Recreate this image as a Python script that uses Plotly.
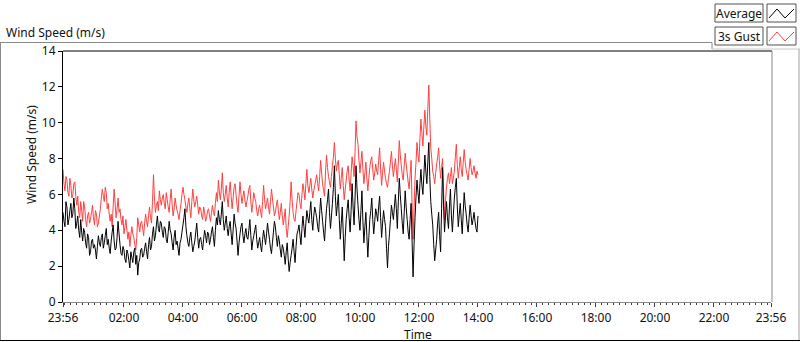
import pandas as pd
import plotly.graph_objects as go

# ---------------- data (2-minute samples, 23:56 -> 14:00) ----------------
start_time = "2024-01-01 23:56"
end_time = "2024-01-02 23:56"
sample_minutes = 2

average = [
    5.0, 4.5, 4.2, 5.6, 5.3, 4.3, 4.6, 5.1, 5.5, 4.7, 4.9, 5.8, 5.2, 4.1, 4.4, 4.8, 4.0, 3.6, 4.6, 3.9,
    3.4, 4.1, 3.9, 3.3, 3.0, 3.8, 3.6, 2.6, 2.8, 3.4, 3.5, 3.0, 3.2, 2.9, 2.4, 3.1, 3.7, 3.3, 3.1, 3.6,
    3.8, 3.0, 3.3, 3.7, 4.1, 3.2, 3.5, 3.0, 2.7, 3.4, 3.9, 4.3, 3.4, 2.9, 3.0, 3.6, 4.5, 3.8, 3.2, 2.7,
    2.6, 3.1, 2.9, 2.4, 2.2, 2.9, 2.7, 2.3, 1.9, 2.8, 2.5, 2.2, 2.8, 3.0, 2.1, 2.6, 1.5, 2.2, 2.4, 2.9,
    3.0, 2.5, 2.6, 3.0, 3.3, 2.8, 2.4, 3.2, 3.6, 2.9, 3.1, 3.8, 4.2, 3.4, 3.7, 4.3, 4.8, 4.1, 3.9, 4.5,
    4.4, 3.9, 3.6, 4.2, 4.1, 3.5, 3.3, 3.9, 4.5, 4.0, 3.8, 3.3, 2.9, 3.6, 4.0, 3.2, 3.4, 3.0, 2.6, 3.3,
    3.5, 3.9, 4.3, 4.7, 5.2, 4.2, 3.7, 3.3, 3.1, 3.6, 3.9, 3.3, 2.8, 3.1, 3.4, 3.9, 4.4, 3.6, 3.0, 3.5,
    3.6, 3.2, 2.9, 3.5, 4.0, 3.7, 3.3, 3.9, 3.8, 3.2, 3.5, 3.9, 4.2, 3.6, 3.1, 4.0, 4.7, 4.3, 5.1, 4.6,
    4.3, 4.9, 5.6, 4.6, 4.0, 4.4, 4.8, 4.1, 3.7, 4.2, 4.5, 3.8, 3.2, 4.0, 4.9, 4.4, 4.1, 3.4, 2.6, 3.3,
    3.8, 4.2, 4.4, 3.7, 3.3, 3.8, 4.1, 3.6, 3.5, 4.0, 4.6, 3.7, 2.9, 3.4, 3.7, 4.0, 4.3, 3.5, 3.0, 3.3,
    3.6, 3.1, 2.8, 3.5, 4.0, 3.6, 3.2, 3.8, 4.4, 3.9, 3.5, 3.0, 2.7, 3.3, 3.9, 4.5, 4.2, 3.6, 3.1, 3.7,
    3.4, 2.9, 2.5, 3.2, 3.0, 2.6, 2.1, 2.8, 3.3, 2.4, 1.7, 2.2, 2.6, 3.0, 3.5, 2.8, 2.2, 3.1, 3.8, 4.0,
    4.3, 3.7, 3.2, 4.1, 4.8, 4.2, 3.6, 4.4, 5.1, 4.7, 4.4, 5.0, 5.6, 4.6, 4.0, 4.8, 5.3, 5.0, 4.7, 4.2,
    3.9, 4.9, 5.8, 5.1, 4.5, 3.9, 3.4, 4.4, 5.2, 5.7, 6.3, 5.0, 4.1, 4.8, 5.5, 6.4, 7.6, 5.9, 4.8, 5.4,
    6.0, 4.6, 3.5, 4.4, 5.3, 3.8, 2.3, 3.6, 4.6, 5.2, 5.7, 4.7, 3.9, 5.1, 6.6, 5.3, 4.3, 5.8, 7.6, 6.3,
    5.4, 4.6, 4.0, 5.1, 6.2, 4.5, 3.3, 4.2, 5.0, 3.7, 2.5, 3.6, 4.6, 5.1, 5.8, 4.6, 3.8, 4.5, 5.2, 4.9,
    4.5, 5.3, 5.9, 4.7, 3.6, 4.4, 5.1, 4.6, 4.2, 3.0, 1.9, 3.1, 3.8, 4.6, 5.4, 5.0, 4.6, 5.3, 6.0, 5.2,
    4.1, 5.6, 6.9, 6.0, 5.2, 4.4, 3.8, 5.0, 6.2, 5.3, 4.6, 3.9, 3.5, 4.6, 5.5, 3.4, 1.4, 3.2, 4.7, 5.9,
    6.8, 6.1, 5.5, 6.6, 7.4, 6.5, 6.0, 7.1, 8.2, 7.3, 6.6, 7.8, 8.9, 7.0, 5.6, 4.9, 4.3, 3.2, 2.3, 2.9,
    3.5, 4.4, 5.0, 3.7, 2.8, 5.2, 7.5, 5.4, 3.9, 4.8, 5.6, 4.7, 4.1, 5.3, 6.3, 4.8, 3.9, 4.9, 5.8, 6.4,
    6.9, 5.3, 4.2, 4.9, 5.5, 4.6, 3.8, 5.0, 6.1, 5.4, 4.9, 4.3, 3.9, 4.7, 5.4, 4.8, 4.3, 4.6, 5.0, 4.5,
    4.1, 3.9, 4.8,
]

gust = [
    7.4, 6.6, 6.2, 7.0, 6.8, 6.1, 5.9, 6.9, 6.5, 5.8, 6.0, 6.6, 6.7, 5.9, 5.4, 5.9, 5.0, 4.7, 5.6, 5.1,
    4.5, 5.6, 5.3, 4.6, 4.2, 4.8, 5.0, 4.4, 4.6, 5.0, 5.4, 4.7, 4.3, 5.1, 4.9, 4.2, 4.4, 4.8, 5.2, 5.8,
    6.3, 5.9, 5.6, 6.4, 6.1, 5.2, 5.5, 4.9, 4.5, 4.9, 4.2, 5.3, 6.3, 5.5, 4.7, 5.2, 5.8, 5.0, 5.2, 4.6,
    4.3, 4.8, 3.8, 4.2, 4.6, 4.0, 3.5, 3.9, 3.1, 3.7, 4.2, 3.8, 3.6, 3.2, 2.9, 3.6, 4.7, 4.3, 3.9, 4.4,
    4.5, 4.1, 3.7, 4.4, 4.9, 4.5, 4.2, 4.8, 5.3, 4.7, 4.4, 5.6, 7.1, 5.8, 5.0, 5.4, 5.6, 5.1, 6.2, 5.7,
    5.4, 5.8, 6.0, 5.5, 5.2, 6.1, 5.7, 5.3, 5.0, 5.7, 6.3, 5.4, 4.8, 5.2, 5.8, 5.4, 5.1, 4.9, 4.6, 5.1,
    5.5, 6.0, 6.4, 6.0, 5.7, 5.3, 5.0, 5.5, 5.8, 5.2, 4.7, 5.6, 6.3, 5.7, 5.3, 5.6, 5.9, 5.4, 4.9, 5.3,
    5.2, 4.8, 4.6, 5.3, 5.0, 4.5, 4.7, 5.1, 5.2, 4.8, 4.5, 5.0, 5.4, 5.0, 4.8, 5.5, 6.1, 5.6, 6.8, 6.2,
    5.7, 6.3, 7.2, 6.1, 5.6, 6.0, 6.5, 5.8, 5.3, 6.1, 6.7, 5.9, 5.2, 5.8, 6.4, 6.6, 6.0, 5.4, 5.0, 5.9,
    6.7, 6.0, 5.5, 5.9, 6.2, 5.7, 5.3, 5.6, 5.9, 6.3, 6.5, 5.6, 5.0, 5.5, 6.1, 5.8, 5.6, 5.1, 4.8, 5.2,
    5.4, 5.0, 4.7, 5.6, 6.5, 5.7, 5.2, 5.5, 5.8, 5.3, 4.9, 5.6, 6.3, 5.8, 5.3, 4.8, 5.0, 5.4, 5.7, 5.1,
    4.6, 5.0, 5.5, 4.8, 4.3, 4.7, 5.2, 4.1, 3.6, 4.2, 4.8, 5.6, 6.7, 5.7, 5.0, 4.6, 4.5, 5.1, 5.6, 6.1,
    6.0, 5.5, 5.2, 6.0, 6.6, 6.2, 5.7, 6.6, 7.4, 6.5, 6.1, 6.5, 6.9, 6.3, 5.8, 6.2, 6.5, 6.8, 7.1, 6.6,
    6.2, 7.0, 7.9, 7.2, 6.6, 6.2, 5.9, 7.3, 8.2, 7.5, 7.0, 6.7, 6.4, 7.0, 7.6, 8.1, 8.9, 8.0, 7.3, 7.7,
    7.9, 7.1, 6.3, 6.9, 7.5, 6.5, 5.7, 6.3, 6.8, 7.3, 7.6, 6.8, 6.2, 7.2, 8.1, 7.6, 7.0, 8.4, 10.1, 9.2,
    8.8, 7.9, 7.2, 7.8, 8.4, 7.4, 6.6, 7.2, 7.8, 6.9, 6.2, 6.9, 7.5, 7.9, 8.1, 7.4, 6.8, 7.2, 7.7, 7.3,
    7.1, 7.9, 8.6, 7.4, 6.5, 7.2, 7.8, 7.3, 6.9, 6.6, 6.4, 6.9, 7.3, 7.8, 8.4, 7.6, 7.0, 7.5, 8.0, 7.4,
    6.7, 7.8, 9.0, 8.2, 7.6, 7.1, 6.8, 7.6, 8.3, 7.7, 7.2, 6.7, 6.3, 7.1, 7.9, 5.4, 3.5, 5.2, 6.9, 7.8,
    8.9, 8.2, 7.8, 9.1, 10.2, 9.4, 8.7, 9.8, 10.7, 9.8, 9.3, 10.8, 12.1, 10.2, 8.6, 8.0, 7.3, 7.0, 6.6, 7.2,
    7.7, 8.1, 8.6, 7.6, 6.9, 7.5, 8.0, 6.2, 4.6, 5.7, 6.4, 6.9, 7.2, 6.6, 7.0, 7.5, 6.6, 6.9, 7.3, 8.1,
    8.8, 7.6, 6.9, 7.5, 8.1, 7.4, 7.0, 7.8, 8.5, 7.8, 7.4, 7.1, 6.8, 7.4, 8.0, 7.5, 7.1, 7.3, 7.6, 7.2,
    6.9, 7.3, 7.1,
]

tick_times = [
    "2024-01-01 23:56", "2024-01-02 02:00", "2024-01-02 04:00", "2024-01-02 06:00",
    "2024-01-02 08:00", "2024-01-02 10:00", "2024-01-02 12:00", "2024-01-02 14:00",
    "2024-01-02 16:00", "2024-01-02 18:00", "2024-01-02 20:00", "2024-01-02 22:00",
    "2024-01-02 23:56",
]
tick_labels = ["23:56", "02:00", "04:00", "06:00", "08:00", "10:00", "12:00",
               "14:00", "16:00", "18:00", "20:00", "22:00", "23:56"]
y_ticks = [0, 2, 4, 6, 8, 10, 12, 14]

times = pd.date_range(start=start_time, periods=len(average), freq=f"{sample_minutes}min")

# ---------------- geometry helpers (pixel -> paper) ----------------
W, H = 800, 342
L, R, T, B = 63, 771, 51, 302


def px(x):
    return (x - L) / (R - L)


def py(y):
    return (B - y) / (B - T)


FONT = "Noto Sans"

fig = go.Figure()
fig.add_trace(go.Scatter(x=times, y=gust, mode="lines", name="3s Gust",
                         line=dict(color="#FF4040", width=1, simplify=False)))
fig.add_trace(go.Scatter(x=times, y=average, mode="lines", name="Average",
                         line=dict(color="#000000", width=1, simplify=False)))

fig.update_layout(
    width=W, height=H, autosize=False,
    margin=dict(l=L, r=W - R, t=T, b=H - B, pad=0),
    paper_bgcolor="white", plot_bgcolor="white",
    showlegend=False,
    font=dict(family=FONT, size=12, color="#111111"),
)

fig.update_xaxes(
    type="date",
    range=[start_time, end_time],
    tickmode="array", tickvals=tick_times, ticktext=tick_labels,
    ticks="outside", ticklen=4, tickcolor="#404040", tickwidth=1,
    showgrid=False, zeroline=False,
    showline=True, linecolor="#8a8a8a", linewidth=1,
    tickfont=dict(family=FONT, size=12, color="#111111"),
    ticklabelstandoff=1,
    minor=dict(tickmode="linear", tick0="2024-01-02 00:00", dtick=12 * 60 * 1000,
               ticks="outside", ticklen=2, tickcolor="#404040", tickwidth=1,
               showgrid=False),
)
fig.update_yaxes(
    range=[0, 14],
    tickmode="array", tickvals=y_ticks,
    ticks="outside", ticklen=4, tickcolor="#000000", tickwidth=1,
    showgrid=False, zeroline=False,
    showline=True, linecolor="#000000", linewidth=1,
    tickfont=dict(family=FONT, size=12, color="#111111"),
)

shapes = []


def line(x0, y0, x1, y1, color, width=1):
    shapes.append(dict(type="line", xref="paper", yref="paper",
                       x0=px(x0), y0=py(y0), x1=px(x1), y1=py(y1),
                       line=dict(color=color, width=width), layer="above"))


# plot-area frame (top dark, right light)
line(L, T, R + 1, T, "#000000")
line(R + 1, T, R + 1, B, "#8a8a8a")
# outer panel frame
line(0, 42.5, 712, 42.5, "#8a8a8a")
line(712, 42.5, 712, 49, "#8a8a8a")
line(712, 49, 800, 49, "#c8c8c8")
line(799, 49, 799, 340, "#a0a0a0")
line(0.5, 42.5, 0.5, 340.5, "#8a8a8a")
line(0, 340.5, 800, 340.5, "#000000")

# legend boxes
for (x0, y0, x1, y1) in [(715, 4, 763, 22), (767, 4, 796, 22),
                         (715, 27, 763, 45), (767, 27, 796, 45)]:
    shapes.append(dict(type="rect", xref="paper", yref="paper",
                       x0=px(x0), y0=py(y0), x1=px(x1), y1=py(y1),
                       line=dict(color="#505050", width=1), fillcolor="white",
                       layer="above"))


def zig(yc, color):
    pts = [(769, yc + 5), (777, yc - 4), (785, yc + 5), (794, yc - 4)]
    path = "M " + " L ".join(f"{px(a)},{py(b)}" for a, b in pts)
    shapes.append(dict(type="path", xref="paper", yref="paper", path=path,
                       line=dict(color=color, width=1), layer="above"))


zig(13, "#000000")
zig(36, "#FF4040")
fig.update_layout(shapes=shapes)

annotations = [
    dict(text="Wind Speed (m/s)", x=px(4), y=py(32), xanchor="left", yanchor="middle"),
    dict(text="Average", x=px(739), y=py(13.5), xanchor="center", yanchor="middle"),
    dict(text="3s Gust", x=px(739), y=py(36.5), xanchor="center", yanchor="middle"),
    dict(text="Wind Speed (m/s)", x=px(31), y=py(155), xanchor="center", yanchor="middle",
         textangle=-90),
    dict(text="Time", x=px(418), y=py(334.5), xanchor="center", yanchor="middle"),
]
for a in annotations:
    a.update(xref="paper", yref="paper", showarrow=False,
             font=dict(family=FONT, size=12, color="#111111"))
fig.update_layout(annotations=annotations)

fig.write_html("out.html",
               config={"displayModeBar": False},
               post_script="document.body.style.margin='0px';document.body.style.padding='0px';")
